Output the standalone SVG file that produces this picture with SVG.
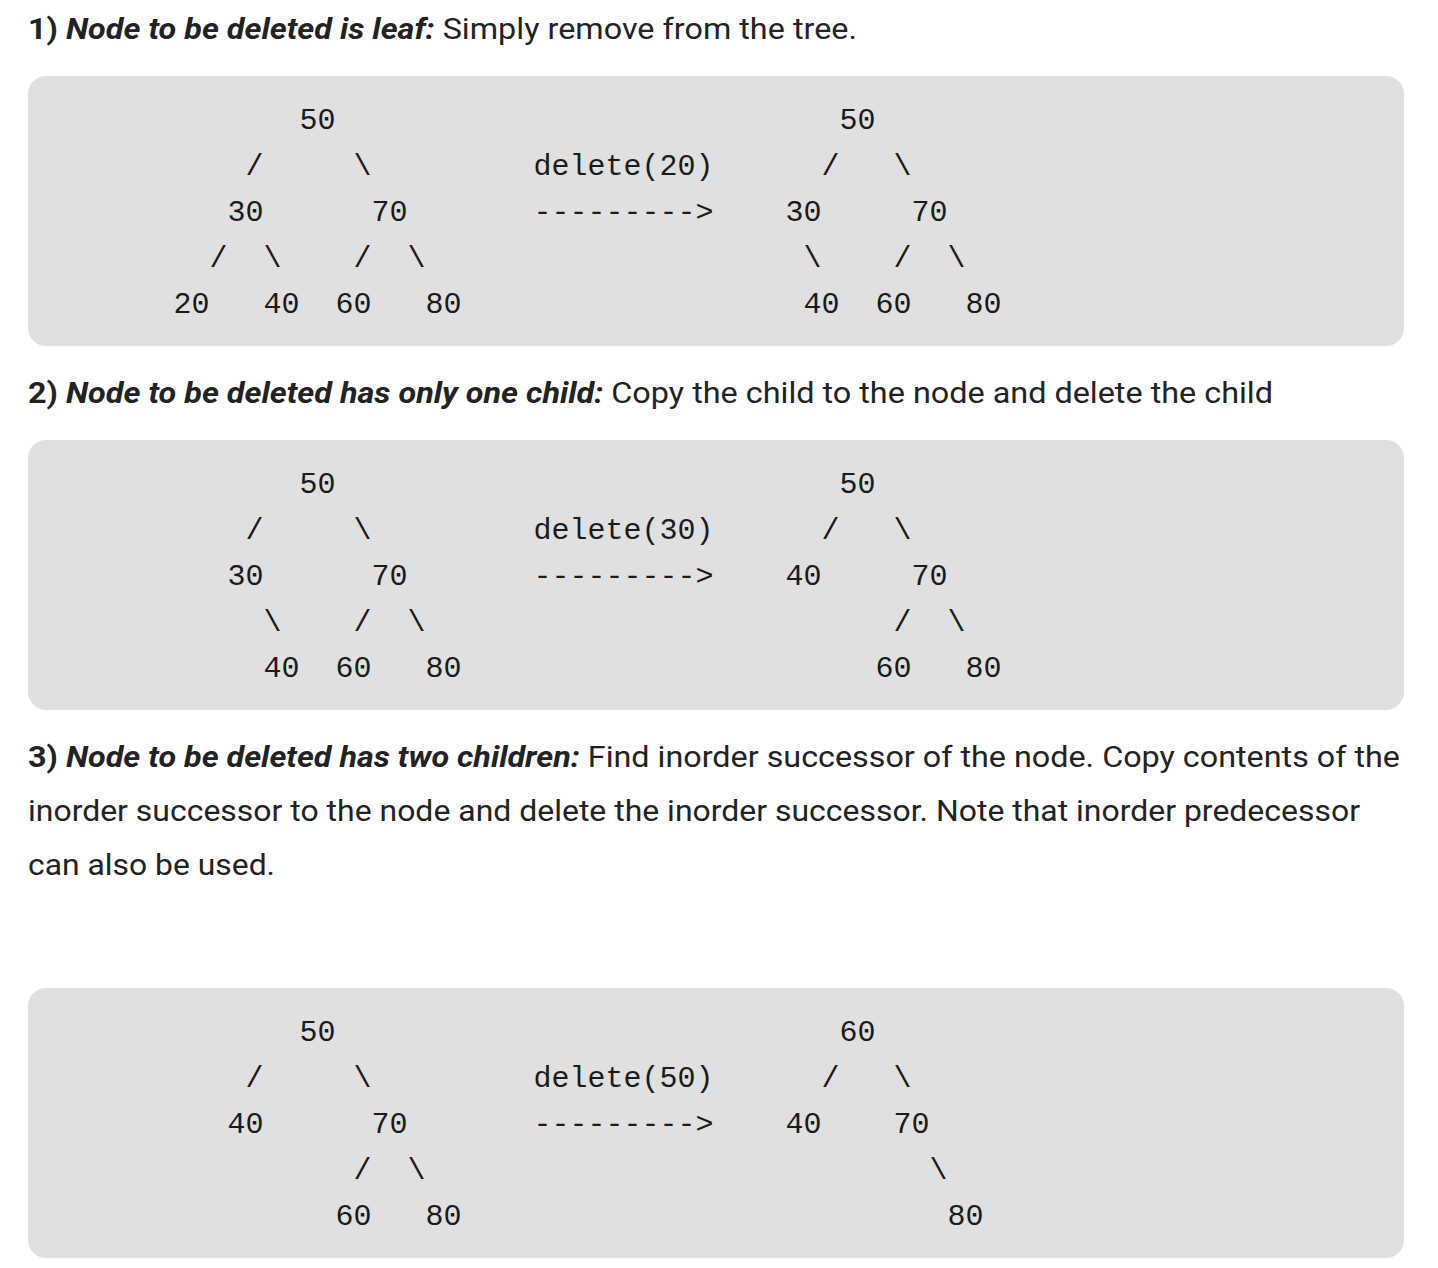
<svg xmlns="http://www.w3.org/2000/svg" width="1438" height="1268" viewBox="0 0 1438 1268">
<style>
.bg{fill:#ffffff}
.box{fill:#e0e0e0}
.h{font-family:Roboto,"Liberation Sans",sans-serif;font-size:30px;fill:#222222}
.b{font-weight:bold}
.bi{font-weight:bold;font-style:italic}
.m{font-family:"Liberation Mono","DejaVu Sans Mono",monospace;font-size:30px;fill:#1a1a1a}
</style>
<rect class="bg" x="0" y="0" width="1438" height="1268"/>
<g id="headings">
<text id="h1" class="h" x="28" y="39" textLength="829" lengthAdjust="spacingAndGlyphs"><tspan class="b">1) </tspan><tspan class="bi">Node to be deleted is leaf:</tspan> Simply remove from the tree.</text>
<text id="h2" class="h" x="28" y="403" textLength="1245" lengthAdjust="spacingAndGlyphs"><tspan class="b">2) </tspan><tspan class="bi">Node to be deleted has only one child:</tspan> Copy the child to the node and delete the child</text>
<text id="h3a" class="h" x="28" y="767" textLength="1372" lengthAdjust="spacingAndGlyphs"><tspan class="b">3) </tspan><tspan class="bi">Node to be deleted has two children:</tspan> Find inorder successor of the node. Copy contents of the</text>
<text id="h3b" class="h" x="28" y="821" textLength="1332" lengthAdjust="spacingAndGlyphs">inorder successor to the node and delete the inorder successor. Note that inorder predecessor</text>
<text id="h3c" class="h" x="28" y="875" textLength="247" lengthAdjust="spacingAndGlyphs">can also be used.</text>
</g>
<g id="boxes">
<rect class="box" x="28" y="76" width="1376" height="270" rx="18"/>
<rect class="box" x="28" y="440" width="1376" height="270" rx="18"/>
<rect class="box" x="28" y="988" width="1376" height="270" rx="18"/>
</g>
<!-- column grid: x = 173.5 + col*18 ; rows 46px apart -->
<g id="ex1" class="m">
<g id="ex1-before">
<text id="n1-50" x="299.5" y="129">50</text>
<text id="n1-30" x="227.5" y="221">30</text>
<text id="n1-70" x="371.5" y="221">70</text>
<text id="n1-20" x="173.5" y="313">20</text>
<text id="n1-40" x="263.5" y="313">40</text>
<text id="n1-60" x="335.5" y="313">60</text>
<text id="n1-80" x="425.5" y="313">80</text>
</g>
<g id="ex1-op">
<text x="533.5" y="175">delete(20)</text>
<text x="533.5" y="221">---------&gt;</text>
</g>
<g id="ex1-after">
<text id="n1r-50" x="839.5" y="129">50</text>
<text id="n1r-30" x="785.5" y="221">30</text>
<text id="n1r-70" x="911.5" y="221">70</text>
<text id="n1r-40" x="803.5" y="313">40</text>
<text id="n1r-60" x="875.5" y="313">60</text>
<text id="n1r-80" x="965.5" y="313">80</text>
</g>
<g id="ex1-connectors">
<text x="245.5" y="175">/</text><text x="353.5" y="175">\</text>
<text x="209.5" y="267">/</text><text x="263.5" y="267">\</text>
<text x="353.5" y="267">/</text><text x="407.5" y="267">\</text>
<text x="821.5" y="175">/</text><text x="893.5" y="175">\</text>
<text x="803.5" y="267">\</text><text x="893.5" y="267">/</text><text x="947.5" y="267">\</text>
</g>
</g>
<g id="ex2" class="m">
<g id="ex2-before">
<text id="n2-50" x="299.5" y="493">50</text>
<text id="n2-30" x="227.5" y="585">30</text>
<text id="n2-70" x="371.5" y="585">70</text>
<text id="n2-40" x="263.5" y="677">40</text>
<text id="n2-60" x="335.5" y="677">60</text>
<text id="n2-80" x="425.5" y="677">80</text>
</g>
<g id="ex2-op">
<text x="533.5" y="539">delete(30)</text>
<text x="533.5" y="585">---------&gt;</text>
</g>
<g id="ex2-after">
<text id="n2r-50" x="839.5" y="493">50</text>
<text id="n2r-40" x="785.5" y="585">40</text>
<text id="n2r-70" x="911.5" y="585">70</text>
<text id="n2r-60" x="875.5" y="677">60</text>
<text id="n2r-80" x="965.5" y="677">80</text>
</g>
<g id="ex2-connectors">
<text x="245.5" y="539">/</text><text x="353.5" y="539">\</text>
<text x="263.5" y="631">\</text>
<text x="353.5" y="631">/</text><text x="407.5" y="631">\</text>
<text x="821.5" y="539">/</text><text x="893.5" y="539">\</text>
<text x="893.5" y="631">/</text><text x="947.5" y="631">\</text>
</g>
</g>
<g id="ex3" class="m">
<g id="ex3-before">
<text id="n3-50" x="299.5" y="1041">50</text>
<text id="n3-40" x="227.5" y="1133">40</text>
<text id="n3-70" x="371.5" y="1133">70</text>
<text id="n3-60" x="335.5" y="1225">60</text>
<text id="n3-80" x="425.5" y="1225">80</text>
</g>
<g id="ex3-op">
<text x="533.5" y="1087">delete(50)</text>
<text x="533.5" y="1133">---------&gt;</text>
</g>
<g id="ex3-after">
<text id="n3r-60" x="839.5" y="1041">60</text>
<text id="n3r-40" x="785.5" y="1133">40</text>
<text id="n3r-70" x="893.5" y="1133">70</text>
<text id="n3r-80" x="947.5" y="1225">80</text>
</g>
<g id="ex3-connectors">
<text x="245.5" y="1087">/</text><text x="353.5" y="1087">\</text>
<text x="353.5" y="1179">/</text><text x="407.5" y="1179">\</text>
<text x="821.5" y="1087">/</text><text x="893.5" y="1087">\</text>
<text x="929.5" y="1179">\</text>
</g>
</g>
</svg>
